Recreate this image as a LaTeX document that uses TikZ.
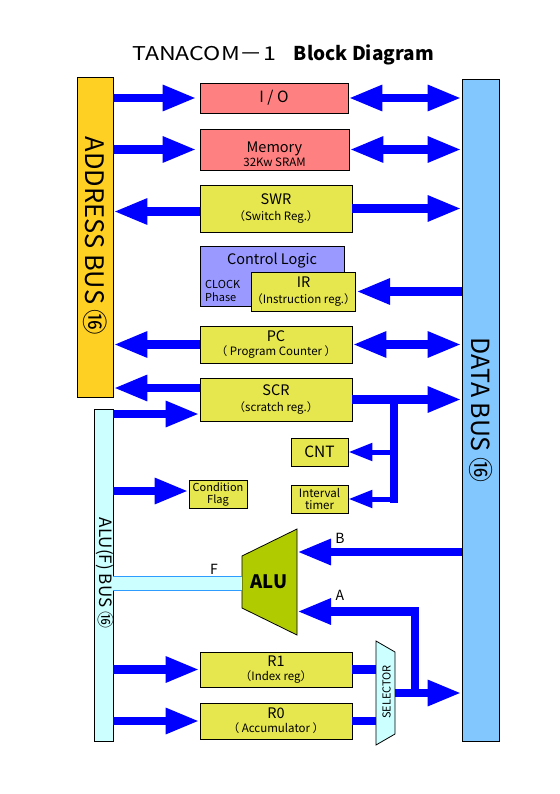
\documentclass[tikz,border=0pt]{standalone}
\usepackage{fontspec}
\setmainfont{Noto Sans CJK JP}
\usetikzlibrary{arrows.meta}
\definecolor{addrc}{HTML}{FFD024}
\definecolor{datac}{HTML}{82C8FF}
\definecolor{alubc}{HTML}{CCFFFF}
\definecolor{pinkc}{HTML}{FF8080}
\definecolor{yelc}{HTML}{E6E64E}
\definecolor{ctlc}{HTML}{9999FF}
\definecolor{aluc}{HTML}{B0CC00}
\definecolor{busc}{HTML}{0000FF}
\definecolor{fline}{HTML}{2E9BFF}
\newcommand\fsz[2]{\fontsize{#1}{#2}\selectfont}
\newcommand\subtxt{\fsz{11.5}{13}}
\begin{document}
\begin{tikzpicture}[x=1pt,y=-1pt,
  box/.style={draw=black, line width=0.8pt, inner sep=0pt, align=center, font=\fsz{14.5}{16}},
  busbar/.style={draw=black, line width=0.8pt, inner sep=0pt},
  bus/.style={draw=busc, line width=8.5pt, -{Triangle[length=34pt,width=24pt]}},
  dbus/.style={draw=busc, line width=8.5pt, {Triangle[length=34pt,width=24pt]}-{Triangle[length=34pt,width=24pt]}},
  sbus/.style={draw=busc, line width=5pt, -{Triangle[length=24pt,width=17pt]}},
  busline/.style={draw=busc, line width=8.5pt},
  lbl/.style={inner sep=0pt, font=\fsz{14}{16}}]
\useasboundingbox (0,0) rectangle (559,794);
\fill[white] (0,0) rectangle (559,794);

% title
\node[inner sep=0pt, font=\fsz{19}{22}] (title) at (283,55) {\scalebox{1.22}[1]{TANACOM－1}\hspace{18pt}\textbf{Block Diagram}};

% buses
\node[busbar, fill=addrc, minimum width=36pt, minimum height=320pt] (addr) at (95,237) {};
\node[busbar, fill=datac, minimum width=37pt, minimum height=662pt] (data) at (480.5,410) {};
\node[busbar, fill=alubc, minimum width=19pt, minimum height=332pt] (alub) at (103.5,575) {};
\node[rotate=-90, inner sep=0pt, font=\fsz{25.5}{28}] (addrtxt) at (95,236) {ADDRESS BUS ⑯};
\node[rotate=-90, inner sep=0pt, font=\fsz{25}{28}] (datatxt) at (481,410) {DATA BUS ⑯};
\node[rotate=-90, inner sep=0pt, font=\fsz{17}{19}] (alubtxt) at (105,573) {ALU(F) BUS ⑯};

% boxes
\node[box, fill=pinkc, minimum width=148pt, minimum height=30pt, font=\fsz{15.5}{17}] (io) at (274,98) {I / O};
\node[box, fill=pinkc, minimum width=149pt, minimum height=41pt] (mem) at (274.5,149.5) {};
\node[inner sep=0pt, align=center, font=\fsz{14.5}{16}] (memtxt) at (274.5,154) {Memory\\[-2pt]\subtxt 32Kw SRAM};
\node[box, fill=yelc, minimum width=152pt, minimum height=47pt] (swr) at (276,208.5) {SWR\\\subtxt（Switch Reg.）};
\node[box, fill=ctlc, minimum width=144pt, minimum height=60pt] (ctl) at (272,276) {};
\node[lbl, font=\fsz{14.5}{16}] (ctltxt) at (272,261) {Control Logic};
\node[inner sep=0pt, align=left, anchor=west, font=\fsz{11}{13}] (clk) at (205,290.5) {CLOCK\\Phase};
\node[box, fill=yelc, minimum width=97pt, minimum height=39pt] (ir) at (303.5,291.5) {IR\\\subtxt（Instruction reg.）};
\node[box, fill=yelc, minimum width=152pt, minimum height=37pt] (pc) at (276,344.5) {PC\\[-2pt]\subtxt（ Program Counter ）};
\node[box, fill=yelc, minimum width=152pt, minimum height=43pt] (scr) at (276,399.5) {SCR\\\subtxt（scratch reg.）};
\node[box, fill=yelc, minimum width=57pt, minimum height=28pt, font=\fsz{15.5}{17}] (cnt) at (319.5,452) {CNT};
\node[box, fill=yelc, minimum width=57pt, minimum height=28pt, font=\fsz{11.5}{12.5}] (tim) at (319.5,499) {Interval\\timer};
\node[box, fill=yelc, minimum width=58pt, minimum height=28pt, font=\fsz{11}{12}] (flag) at (218,494) {Condition\\Flag};
\node[box, fill=yelc, minimum width=152pt, minimum height=35pt] (r1) at (276,669.5) {R1\\[-2pt]\subtxt（Index reg）};
\node[box, fill=yelc, minimum width=152pt, minimum height=36pt] (r0) at (276,721) {R0\\[-2pt]\subtxt（ Accumulator ）};

% ALU
\draw[fill=aluc, line width=0.8pt] (242,556) -- (297,529) -- (297,635) -- (242,608) -- cycle;
\node[inner sep=0pt, font=\fsz{18.5}{20}\bfseries] (alu) at (269,582) {ALU};
\coordinate (aluB) at (297,552);
\coordinate (aluA) at (297,611.5);
\coordinate (aluF) at (242,583);

% SELECTOR
\draw[fill=alubc, line width=0.8pt] (376,641) -- (395,652) -- (395,734) -- (376,745) -- cycle;
\node[rotate=90, inner sep=0pt, font=\fsz{11}{12}] (seltxt) at (386.5,692) {SELECTOR};
\coordinate (selL) at (376,693);
\coordinate (selout) at (395,693);

% F bus
\fill[alubc] (alub.east |- 0,576) rectangle (aluF |- 0,590);
\draw[fline, line width=0.8pt] (alub.east |- 0,576) -- (aluF |- 0,576);
\draw[fline, line width=0.8pt] (alub.east |- 0,590) -- (aluF |- 0,590);
\node[lbl] (flbl) at (214,569) {F};
\node[lbl] (blbl) at (340,538) {B};
\node[lbl] (albl) at (340,595) {A};

% address bus connections
\draw[bus] (addr.east |- io.west) -- ([xshift=-3pt]io.west);
\draw[bus] (addr.east |- mem.west) -- ([xshift=-3pt]mem.west);
\draw[bus] ([yshift=-3pt]swr.west) -- ([yshift=-3pt]swr.west -| addr.east);
\draw[bus] (pc.west) -- (pc.west -| addr.east);
\draw[bus] ([yshift=11.5pt]scr.west) -- ([yshift=11.5pt]scr.west -| addr.east);

% data bus connections
\draw[dbus] (io.east) -- (io.east -| data.west);
\draw[dbus] (mem.east) -- (mem.east -| data.west);
\draw[bus] (swr.east) -- (swr.east -| data.west);
\draw[bus] (data.west |- ir.east) -- (ir.east);
\draw[dbus] (pc.east) -- (pc.east -| data.west);
\draw[bus] (scr.east) -- (scr.east -| data.west);

% SCR branch to CNT / timer
\coordinate (j1) at (394,399.5);
\coordinate (j1b) at (394,503);
\draw[busline] (j1) -- (j1b);
\draw[sbus] (j1 |- cnt.east) -- (cnt.east);
\draw[sbus] (j1 |- tim.east) -- (tim.east);

% ALU(F) bus connections
\draw[bus] ([yshift=-14.5pt]scr.west -| alub.east) -- ([yshift=-14.5pt]scr.west);
\draw[bus] ([yshift=3pt]flag.west -| alub.east) -- ([yshift=3pt]flag.west);
\draw[bus] (alub.east |- r1.west) -- (r1.west);
\draw[bus] (alub.east |- r0.west) -- (r0.west);

% ALU inputs
\draw[bus] (data.west |- aluB) -- (aluB);
\coordinate (j2) at (415,693);
\draw[busline] (r1.east) -- (r1.east -| selL);
\draw[busline] (r0.east) -- (r0.east -| selL);
\draw[bus] (selout) -- (selout -| data.west);
\draw[bus, line join=miter] (j2) |- (aluA);
\end{tikzpicture}
\end{document}
